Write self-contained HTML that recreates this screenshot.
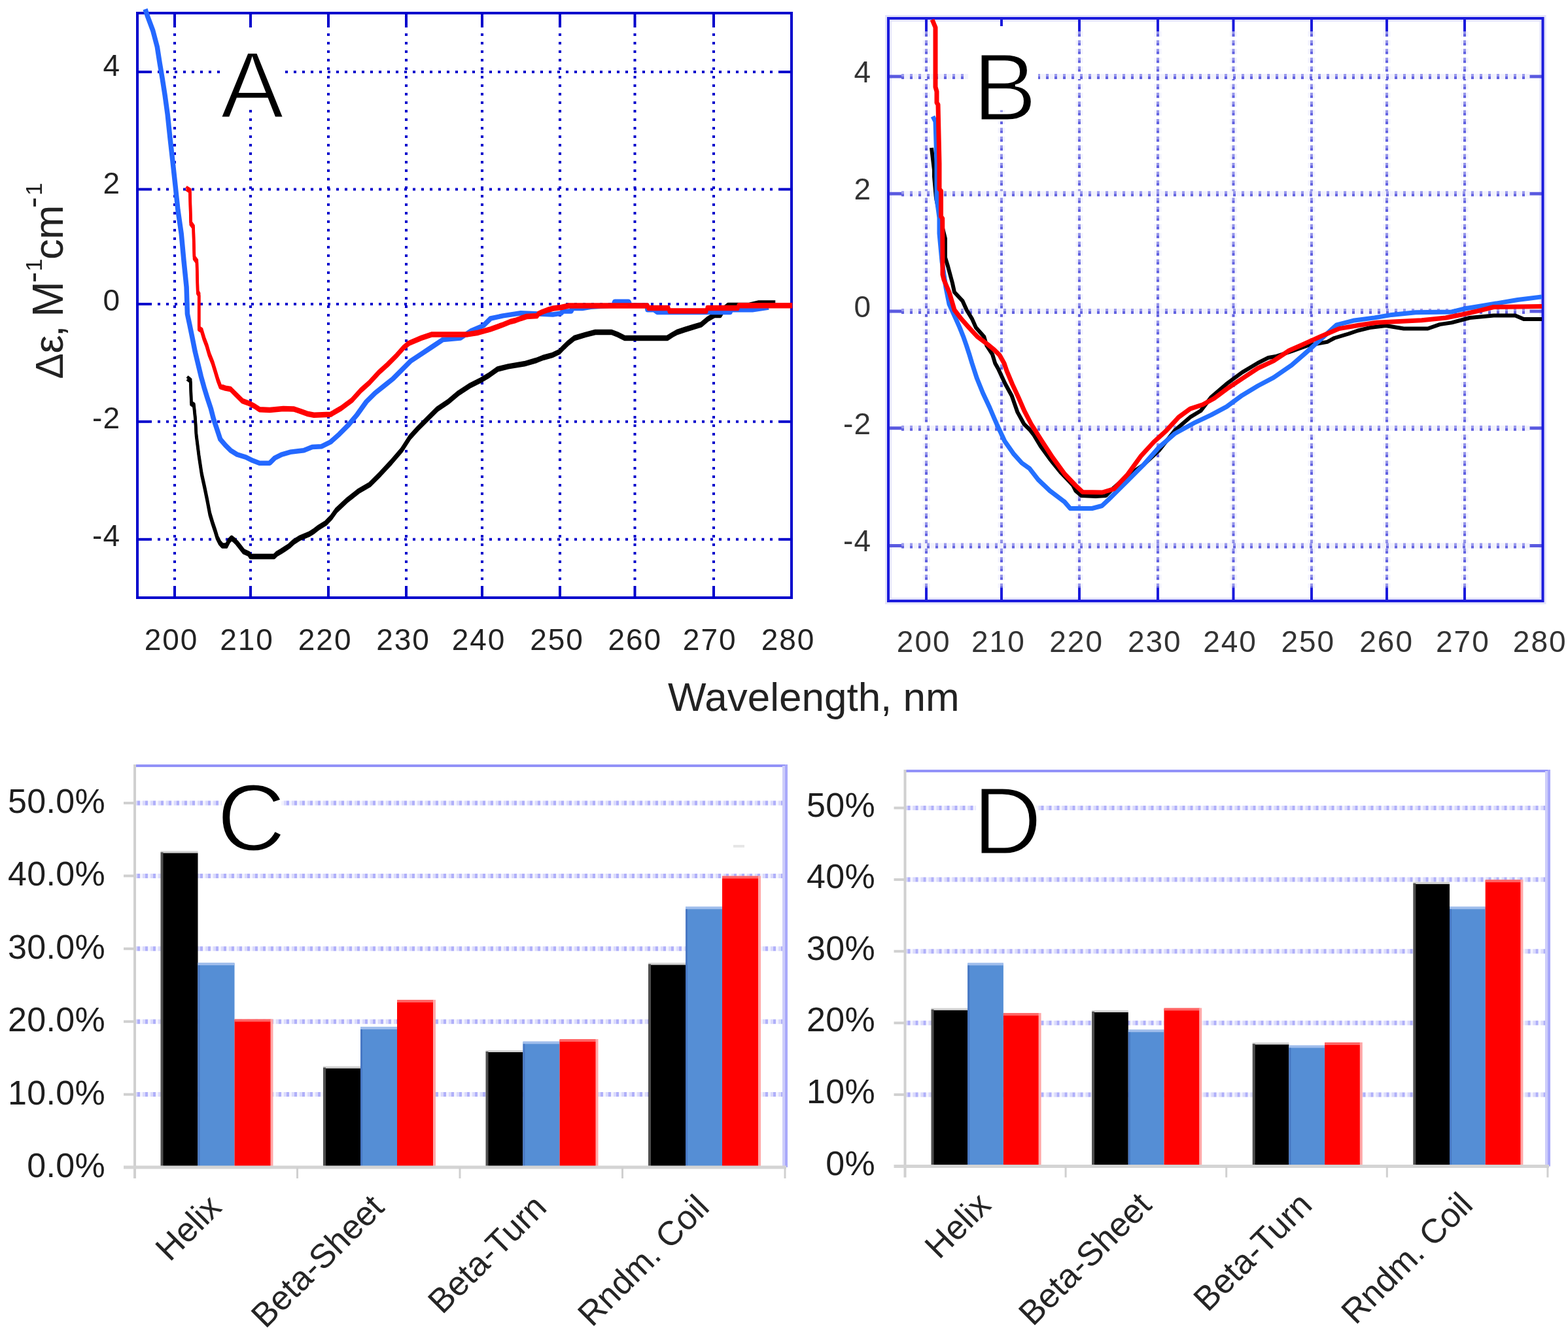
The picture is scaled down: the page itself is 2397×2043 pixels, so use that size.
<!DOCTYPE html><html><head><meta charset="utf-8"><title>CD spectra and secondary structure</title>
<style>html,body{margin:0;padding:0;background:#fff;}body{width:2397px;height:2043px;overflow:hidden;}svg{display:block;}</style></head><body>
<svg xmlns="http://www.w3.org/2000/svg" width="2397" height="2043" viewBox="0 0 2397 2043">
<rect x="0" y="0" width="2397" height="2043" fill="#ffffff"/>
<g id="panelA">
<line x1="267" y1="38" x2="267" y2="896" stroke="#0000cc" stroke-width="4" stroke-dasharray="4 9"/>
<line x1="267" y1="20" x2="267" y2="38" stroke="#0000cc" stroke-width="4"/>
<line x1="267" y1="896" x2="267" y2="914" stroke="#0000cc" stroke-width="4"/>
<line x1="383" y1="38" x2="383" y2="896" stroke="#0000cc" stroke-width="4" stroke-dasharray="4 9"/>
<line x1="383" y1="20" x2="383" y2="38" stroke="#0000cc" stroke-width="4"/>
<line x1="383" y1="896" x2="383" y2="914" stroke="#0000cc" stroke-width="4"/>
<line x1="502" y1="38" x2="502" y2="896" stroke="#0000cc" stroke-width="4" stroke-dasharray="4 9"/>
<line x1="502" y1="20" x2="502" y2="38" stroke="#0000cc" stroke-width="4"/>
<line x1="502" y1="896" x2="502" y2="914" stroke="#0000cc" stroke-width="4"/>
<line x1="621" y1="38" x2="621" y2="896" stroke="#0000cc" stroke-width="4" stroke-dasharray="4 9"/>
<line x1="621" y1="20" x2="621" y2="38" stroke="#0000cc" stroke-width="4"/>
<line x1="621" y1="896" x2="621" y2="914" stroke="#0000cc" stroke-width="4"/>
<line x1="737" y1="38" x2="737" y2="896" stroke="#0000cc" stroke-width="4" stroke-dasharray="4 9"/>
<line x1="737" y1="20" x2="737" y2="38" stroke="#0000cc" stroke-width="4"/>
<line x1="737" y1="896" x2="737" y2="914" stroke="#0000cc" stroke-width="4"/>
<line x1="856" y1="38" x2="856" y2="896" stroke="#0000cc" stroke-width="4" stroke-dasharray="4 9"/>
<line x1="856" y1="20" x2="856" y2="38" stroke="#0000cc" stroke-width="4"/>
<line x1="856" y1="896" x2="856" y2="914" stroke="#0000cc" stroke-width="4"/>
<line x1="970.5" y1="38" x2="970.5" y2="896" stroke="#0000cc" stroke-width="4" stroke-dasharray="4 9"/>
<line x1="970.5" y1="20" x2="970.5" y2="38" stroke="#0000cc" stroke-width="4"/>
<line x1="970.5" y1="896" x2="970.5" y2="914" stroke="#0000cc" stroke-width="4"/>
<line x1="1091" y1="38" x2="1091" y2="896" stroke="#0000cc" stroke-width="4" stroke-dasharray="4 9"/>
<line x1="1091" y1="20" x2="1091" y2="38" stroke="#0000cc" stroke-width="4"/>
<line x1="1091" y1="896" x2="1091" y2="914" stroke="#0000cc" stroke-width="4"/>
<line x1="228" y1="110" x2="1192" y2="110" stroke="#0000cc" stroke-width="4" stroke-dasharray="4 9"/>
<line x1="210" y1="110" x2="228" y2="110" stroke="#0000cc" stroke-width="4"/>
<line x1="1192" y1="110" x2="1210" y2="110" stroke="#0000cc" stroke-width="4"/>
<line x1="228" y1="289.5" x2="1192" y2="289.5" stroke="#0000cc" stroke-width="4" stroke-dasharray="4 9"/>
<line x1="210" y1="289.5" x2="228" y2="289.5" stroke="#0000cc" stroke-width="4"/>
<line x1="1192" y1="289.5" x2="1210" y2="289.5" stroke="#0000cc" stroke-width="4"/>
<line x1="228" y1="465" x2="1192" y2="465" stroke="#0000cc" stroke-width="4" stroke-dasharray="4 9"/>
<line x1="210" y1="465" x2="228" y2="465" stroke="#0000cc" stroke-width="4"/>
<line x1="1192" y1="465" x2="1210" y2="465" stroke="#0000cc" stroke-width="4"/>
<line x1="228" y1="644.8" x2="1192" y2="644.8" stroke="#0000cc" stroke-width="4" stroke-dasharray="4 9"/>
<line x1="210" y1="644.8" x2="228" y2="644.8" stroke="#0000cc" stroke-width="4"/>
<line x1="1192" y1="644.8" x2="1210" y2="644.8" stroke="#0000cc" stroke-width="4"/>
<line x1="228" y1="824.8" x2="1192" y2="824.8" stroke="#0000cc" stroke-width="4" stroke-dasharray="4 9"/>
<line x1="210" y1="824.8" x2="228" y2="824.8" stroke="#0000cc" stroke-width="4"/>
<line x1="1192" y1="824.8" x2="1210" y2="824.8" stroke="#0000cc" stroke-width="4"/>
<rect x="210" y="20" width="1000" height="894" fill="none" stroke="#0000cc" stroke-width="4"/>
<polyline points="287.8,577.3 291.2,580.0 292.5,615.0 296.4,617.7 298.5,638.0 300.0,663.0 304.2,696.0 308.3,723.0 312.7,743.0 316.8,763.0 320.8,784.0 325.0,798.0 329.0,810.0 332.0,820.0 336.0,828.0 340.0,832.6 346.0,832.6 350.0,825.0 354.0,820.8 358.0,824.0 362.0,828.0 366.0,833.0 372.5,841.4 380.5,845.0 383.0,849.0 419.0,849.0 423.0,845.0 429.8,841.0 436.0,837.0 442.0,833.0 448.5,827.0 458.0,820.8 473.0,814.6 479.5,810.5 487.5,804.3 498.0,797.8 506.0,789.7 514.0,778.5 529.8,763.6 548.8,748.6 565.1,739.1 581.4,722.8 597.8,705.1 614.1,686.1 626.3,667.1 638.5,653.5 654.8,637.2 668.4,623.6 684.7,612.7 701.0,599.1 717.4,588.3 733.7,580.1 747.3,572.0 760.8,562.4 777.1,558.4 801.6,554.3 820.0,549.0 830.0,545.0 845.0,540.8 855.0,536.0 862.0,528.8 868.0,523.0 878.0,515.0 895.0,509.9 910.0,506.0 935.0,506.0 945.0,509.9 955.0,515.0 1020.0,515.0 1028.0,509.9 1035.0,506.0 1047.0,502.0 1060.0,498.0 1072.0,494.3 1082.0,485.9 1092.0,480.0 1101.0,480.0 1107.0,470.0 1113.0,465.0 1130.0,465.0 1145.0,465.0 1160.0,461.5 1183.0,461.5" fill="none" stroke="#000" stroke-width="4.5" stroke-linejoin="round" stroke-linecap="square"/>
<polyline points="287.8,581.3 291.2,584.0 292.5,619.0 296.4,621.7 298.5,642.0 300.0,667.0 304.2,700.0 308.3,727.0 312.7,747.0 316.8,767.0 320.8,788.0 325.0,802.0 329.0,814.0 332.0,824.0 336.0,832.0 340.0,836.6 346.0,836.6 350.0,829.0 354.0,824.8 358.0,828.0 362.0,832.0 366.0,837.0 372.5,845.4 380.5,849.0 383.0,853.0 419.0,853.0 423.0,849.0 429.8,845.0 436.0,841.0 442.0,837.0 448.5,831.0 458.0,824.8 473.0,818.6 479.5,814.5 487.5,808.3 498.0,801.8 506.0,793.7 514.0,782.5 529.8,767.6 548.8,752.6 565.1,743.1 581.4,726.8 597.8,709.1 614.1,690.1 626.3,671.1 638.5,657.5 654.8,641.2 668.4,627.6 684.7,616.7 701.0,603.1 717.4,592.3 733.7,584.1 747.3,576.0 760.8,566.4 777.1,562.4 801.6,558.3 820.0,553.0 830.0,549.0 845.0,544.8 855.0,540.0 862.0,532.8 868.0,527.0 878.0,519.0 895.0,513.9 910.0,510.0 935.0,510.0 945.0,513.9 955.0,519.0 1020.0,519.0 1028.0,513.9 1035.0,510.0 1047.0,506.0 1060.0,502.0 1072.0,498.3 1082.0,489.9 1092.0,484.0 1101.0,484.0 1107.0,474.0 1113.0,469.0 1130.0,469.0 1145.0,469.0 1160.0,465.5 1183.0,465.5" fill="none" stroke="#000" stroke-width="4.5" stroke-linejoin="round" stroke-linecap="square"/>
<polyline points="222.0,14.0 225.8,25.5 233.7,46.6 240.3,71.6 244.2,96.7 248.2,120.4 252.1,145.4 256.1,174.4 260.0,211.3 264.0,246.8 268.0,283.7 271.9,320.6 277.2,357.5 281.1,399.6 285.1,439.0 286.4,480.0 290.0,497.0 293.8,515.5 298.2,537.7 302.9,557.2 307.3,575.4 312.0,592.3 317.2,609.3 322.4,625.0 326.4,640.5 331.6,656.0 336.8,671.8 344.6,680.9 352.4,688.7 362.8,695.2 375.8,699.1 386.3,704.3 396.7,708.2 412.3,708.2 420.0,700.4 430.5,695.2 443.5,691.3 464.4,688.7 477.4,683.5 491.7,682.7 505.3,675.9 518.9,663.7 532.5,650.0 546.1,633.8 559.7,614.7 573.3,601.1 586.9,590.3 600.5,579.4 614.0,565.8 627.7,552.2 644.0,541.3 660.3,530.5 676.6,519.6 703.8,516.9 720.0,506.0 739.0,497.9 750.0,487.0 769.0,482.9 796.2,478.8 823.4,480.0 845.0,481.0 858.0,479.0 860.0,476.0 873.0,476.0 875.0,471.5 890.0,471.5 903.0,469.2 938.0,467.0 939.7,461.2 961.0,461.2 963.0,467.0 989.0,467.0 990.0,473.8 1000.0,473.8 1005.0,477.6 1116.0,477.6 1117.0,473.8 1150.0,473.8 1175.0,470.0" fill="none" stroke="#2468ff" stroke-width="7.5" stroke-linejoin="round"/>
<polyline points="286.4,287.0 290.3,289.6 291.7,339.7 295.6,345.0 297.0,392.3 300.9,397.6 302.2,445.0 304.2,448.4 304.2,500.5 308.1,503.0 312.0,516.0 316.0,526.5 319.8,539.6 325.0,552.6 329.0,565.6 332.9,578.6 336.8,589.0 344.6,591.6 352.4,593.0 360.2,600.8 370.6,611.2 381.0,615.0 388.9,619.0 396.7,624.2 412.3,625.0 433.1,622.9 448.8,623.4 459.2,626.8 469.6,630.7 480.0,632.8 505.3,631.8 521.6,622.2 538.0,610.0 551.5,595.0 565.1,582.8 578.7,567.9 592.3,555.7 605.9,542.0 616.8,529.8 624.9,523.0 644.0,514.9 660.3,509.4 714.6,509.4 731.0,506.7 750.0,501.3 769.0,494.5 780.0,490.0 788.0,488.0 796.0,485.0 805.0,482.0 821.0,481.0 823.0,478.0 829.0,475.0 837.0,472.0 846.0,469.5 858.0,468.0 870.0,465.4 990.0,465.4 991.0,469.0 1022.0,469.0 1023.0,473.5 1080.0,473.5 1081.0,469.0 1128.0,469.0 1129.0,465.3 1209.0,465.3" fill="none" stroke="#ff0000" stroke-width="4.5" stroke-linejoin="round" stroke-linecap="square"/>
<polyline points="286.4,291.0 290.3,293.6 291.7,343.7 295.6,349.0 297.0,396.3 300.9,401.6 302.2,449.0 304.2,452.4 304.2,504.5 308.1,507.0 312.0,520.0 316.0,530.5 319.8,543.6 325.0,556.6 329.0,569.6 332.9,582.6 336.8,593.0 344.6,595.6 352.4,597.0 360.2,604.8 370.6,615.2 381.0,619.0 388.9,623.0 396.7,628.2 412.3,629.0 433.1,626.9 448.8,627.4 459.2,630.8 469.6,634.7 480.0,636.8 505.3,635.8 521.6,626.2 538.0,614.0 551.5,599.0 565.1,586.8 578.7,571.9 592.3,559.7 605.9,546.0 616.8,533.8 624.9,527.0 644.0,518.9 660.3,513.4 714.6,513.4 731.0,510.7 750.0,505.3 769.0,498.5 780.0,494.0 788.0,492.0 796.0,489.0 805.0,486.0 821.0,485.0 823.0,482.0 829.0,479.0 837.0,476.0 846.0,473.5 858.0,472.0 870.0,469.4 990.0,469.4 991.0,473.0 1022.0,473.0 1023.0,477.5 1080.0,477.5 1081.0,473.0 1128.0,473.0 1129.0,469.3 1209.0,469.3" fill="none" stroke="#ff0000" stroke-width="4.5" stroke-linejoin="round" stroke-linecap="square"/>
<text x="184" y="116" text-anchor="end" font-size="46" fill="#222" letter-spacing="1" font-family="'Liberation Sans', Arial, sans-serif">4</text>
<text x="184" y="296" text-anchor="end" font-size="46" fill="#222" letter-spacing="1" font-family="'Liberation Sans', Arial, sans-serif">2</text>
<text x="184" y="475" text-anchor="end" font-size="46" fill="#222" letter-spacing="1" font-family="'Liberation Sans', Arial, sans-serif">0</text>
<text x="184" y="655" text-anchor="end" font-size="46" fill="#222" letter-spacing="1" font-family="'Liberation Sans', Arial, sans-serif">-2</text>
<text x="184" y="835" text-anchor="end" font-size="46" fill="#222" letter-spacing="1" font-family="'Liberation Sans', Arial, sans-serif">-4</text>
<text x="262" y="994" text-anchor="middle" font-size="46" fill="#222" letter-spacing="2" font-family="'Liberation Sans', Arial, sans-serif">200</text>
<text x="377.5" y="994" text-anchor="middle" font-size="46" fill="#222" letter-spacing="2" font-family="'Liberation Sans', Arial, sans-serif">210</text>
<text x="497.1" y="994" text-anchor="middle" font-size="46" fill="#222" letter-spacing="2" font-family="'Liberation Sans', Arial, sans-serif">220</text>
<text x="616.5" y="994" text-anchor="middle" font-size="46" fill="#222" letter-spacing="2" font-family="'Liberation Sans', Arial, sans-serif">230</text>
<text x="732" y="994" text-anchor="middle" font-size="46" fill="#222" letter-spacing="2" font-family="'Liberation Sans', Arial, sans-serif">240</text>
<text x="851.5" y="994" text-anchor="middle" font-size="46" fill="#222" letter-spacing="2" font-family="'Liberation Sans', Arial, sans-serif">250</text>
<text x="970.8" y="994" text-anchor="middle" font-size="46" fill="#222" letter-spacing="2" font-family="'Liberation Sans', Arial, sans-serif">260</text>
<text x="1085.2" y="994" text-anchor="middle" font-size="46" fill="#222" letter-spacing="2" font-family="'Liberation Sans', Arial, sans-serif">270</text>
<text x="1205" y="994" text-anchor="middle" font-size="46" fill="#222" letter-spacing="2" font-family="'Liberation Sans', Arial, sans-serif">280</text>
<rect x="343" y="43" width="91" height="117" fill="#fff"/>
<text x="337" y="179.5" font-size="145.5" fill="#000" stroke="#fff" stroke-width="3" font-family="'Liberation Sans', Arial, sans-serif">A</text>
</g>
<g transform="translate(96,578) rotate(-90)" fill="#222" font-family="'Liberation Sans', Arial, sans-serif"><text font-size="63"><tspan x="37.5" y="0">&#949;</tspan><tspan x="63" y="0">,</tspan><tspan x="181" y="0">c</tspan><tspan x="212" y="0">m</tspan></text><text font-size="66" x="93" y="0">M</text><text font-size="59" x="-1.5" y="0">&#916;</text><text font-size="50"><tspan x="145.5" y="-30">-</tspan><tspan x="260" y="-30">-</tspan></text><text font-size="35"><tspan x="163" y="-32">1</tspan><tspan x="279" y="-32">1</tspan></text></g>
<g id="panelB">
<rect x="1358" y="28" width="1000.5" height="891" fill="none" stroke="#e4e4fa" stroke-width="10"/>
<line x1="1416" y1="48" x2="1416" y2="899" stroke="#f3f3fd" stroke-width="11" stroke-dasharray="8 5.4"/>
<line x1="1416" y1="48" x2="1416" y2="899" stroke="#9494ea" stroke-width="4" stroke-dasharray="4 9.4"/>
<line x1="1416" y1="52" x2="1416" y2="899" stroke="#6060e0" stroke-width="4" stroke-dasharray="4 9.4"/>
<line x1="1416" y1="28" x2="1416" y2="48" stroke="#1a1adc" stroke-width="4"/>
<line x1="1416" y1="899" x2="1416" y2="919" stroke="#1a1adc" stroke-width="4"/>
<line x1="1531" y1="48" x2="1531" y2="899" stroke="#f3f3fd" stroke-width="11" stroke-dasharray="8 5.4"/>
<line x1="1531" y1="48" x2="1531" y2="899" stroke="#9494ea" stroke-width="4" stroke-dasharray="4 9.4"/>
<line x1="1531" y1="52" x2="1531" y2="899" stroke="#6060e0" stroke-width="4" stroke-dasharray="4 9.4"/>
<line x1="1531" y1="28" x2="1531" y2="48" stroke="#1a1adc" stroke-width="4"/>
<line x1="1531" y1="899" x2="1531" y2="919" stroke="#1a1adc" stroke-width="4"/>
<line x1="1650" y1="48" x2="1650" y2="899" stroke="#f3f3fd" stroke-width="11" stroke-dasharray="8 5.4"/>
<line x1="1650" y1="48" x2="1650" y2="899" stroke="#9494ea" stroke-width="4" stroke-dasharray="4 9.4"/>
<line x1="1650" y1="52" x2="1650" y2="899" stroke="#6060e0" stroke-width="4" stroke-dasharray="4 9.4"/>
<line x1="1650" y1="28" x2="1650" y2="48" stroke="#1a1adc" stroke-width="4"/>
<line x1="1650" y1="899" x2="1650" y2="919" stroke="#1a1adc" stroke-width="4"/>
<line x1="1770" y1="48" x2="1770" y2="899" stroke="#f3f3fd" stroke-width="11" stroke-dasharray="8 5.4"/>
<line x1="1770" y1="48" x2="1770" y2="899" stroke="#9494ea" stroke-width="4" stroke-dasharray="4 9.4"/>
<line x1="1770" y1="52" x2="1770" y2="899" stroke="#6060e0" stroke-width="4" stroke-dasharray="4 9.4"/>
<line x1="1770" y1="28" x2="1770" y2="48" stroke="#1a1adc" stroke-width="4"/>
<line x1="1770" y1="899" x2="1770" y2="919" stroke="#1a1adc" stroke-width="4"/>
<line x1="1885.5" y1="48" x2="1885.5" y2="899" stroke="#f3f3fd" stroke-width="11" stroke-dasharray="8 5.4"/>
<line x1="1885.5" y1="48" x2="1885.5" y2="899" stroke="#9494ea" stroke-width="4" stroke-dasharray="4 9.4"/>
<line x1="1885.5" y1="52" x2="1885.5" y2="899" stroke="#6060e0" stroke-width="4" stroke-dasharray="4 9.4"/>
<line x1="1885.5" y1="28" x2="1885.5" y2="48" stroke="#1a1adc" stroke-width="4"/>
<line x1="1885.5" y1="899" x2="1885.5" y2="919" stroke="#1a1adc" stroke-width="4"/>
<line x1="2005" y1="48" x2="2005" y2="899" stroke="#f3f3fd" stroke-width="11" stroke-dasharray="8 5.4"/>
<line x1="2005" y1="48" x2="2005" y2="899" stroke="#9494ea" stroke-width="4" stroke-dasharray="4 9.4"/>
<line x1="2005" y1="52" x2="2005" y2="899" stroke="#6060e0" stroke-width="4" stroke-dasharray="4 9.4"/>
<line x1="2005" y1="28" x2="2005" y2="48" stroke="#1a1adc" stroke-width="4"/>
<line x1="2005" y1="899" x2="2005" y2="919" stroke="#1a1adc" stroke-width="4"/>
<line x1="2120" y1="48" x2="2120" y2="899" stroke="#f3f3fd" stroke-width="11" stroke-dasharray="8 5.4"/>
<line x1="2120" y1="48" x2="2120" y2="899" stroke="#9494ea" stroke-width="4" stroke-dasharray="4 9.4"/>
<line x1="2120" y1="52" x2="2120" y2="899" stroke="#6060e0" stroke-width="4" stroke-dasharray="4 9.4"/>
<line x1="2120" y1="28" x2="2120" y2="48" stroke="#1a1adc" stroke-width="4"/>
<line x1="2120" y1="899" x2="2120" y2="919" stroke="#1a1adc" stroke-width="4"/>
<line x1="2239" y1="48" x2="2239" y2="899" stroke="#f3f3fd" stroke-width="11" stroke-dasharray="8 5.4"/>
<line x1="2239" y1="48" x2="2239" y2="899" stroke="#9494ea" stroke-width="4" stroke-dasharray="4 9.4"/>
<line x1="2239" y1="52" x2="2239" y2="899" stroke="#6060e0" stroke-width="4" stroke-dasharray="4 9.4"/>
<line x1="2239" y1="28" x2="2239" y2="48" stroke="#1a1adc" stroke-width="4"/>
<line x1="2239" y1="899" x2="2239" y2="919" stroke="#1a1adc" stroke-width="4"/>
<line x1="1378" y1="117" x2="2338.5" y2="117" stroke="#f2f2fc" stroke-width="8"/>
<line x1="1378" y1="115" x2="2338.5" y2="115" stroke="#9a9aee" stroke-width="4" stroke-dasharray="4 9"/>
<line x1="1378" y1="119" x2="2338.5" y2="119" stroke="#6262e0" stroke-width="4" stroke-dasharray="4 9"/>
<line x1="1358" y1="117" x2="1378" y2="117" stroke="#5a5ae0" stroke-width="5"/>
<line x1="2338.5" y1="117" x2="2358.5" y2="117" stroke="#5a5ae0" stroke-width="5"/>
<line x1="1378" y1="296.2" x2="2338.5" y2="296.2" stroke="#f2f2fc" stroke-width="8"/>
<line x1="1378" y1="294.2" x2="2338.5" y2="294.2" stroke="#9a9aee" stroke-width="4" stroke-dasharray="4 9"/>
<line x1="1378" y1="298.2" x2="2338.5" y2="298.2" stroke="#6262e0" stroke-width="4" stroke-dasharray="4 9"/>
<line x1="1358" y1="296.2" x2="1378" y2="296.2" stroke="#5a5ae0" stroke-width="5"/>
<line x1="2338.5" y1="296.2" x2="2358.5" y2="296.2" stroke="#5a5ae0" stroke-width="5"/>
<line x1="1378" y1="476" x2="2338.5" y2="476" stroke="#f2f2fc" stroke-width="8"/>
<line x1="1378" y1="474" x2="2338.5" y2="474" stroke="#9a9aee" stroke-width="4" stroke-dasharray="4 9"/>
<line x1="1378" y1="478" x2="2338.5" y2="478" stroke="#6262e0" stroke-width="4" stroke-dasharray="4 9"/>
<line x1="1358" y1="476" x2="1378" y2="476" stroke="#5a5ae0" stroke-width="5"/>
<line x1="2338.5" y1="476" x2="2358.5" y2="476" stroke="#5a5ae0" stroke-width="5"/>
<line x1="1378" y1="654.7" x2="2338.5" y2="654.7" stroke="#f2f2fc" stroke-width="8"/>
<line x1="1378" y1="652.7" x2="2338.5" y2="652.7" stroke="#9a9aee" stroke-width="4" stroke-dasharray="4 9"/>
<line x1="1378" y1="656.7" x2="2338.5" y2="656.7" stroke="#6262e0" stroke-width="4" stroke-dasharray="4 9"/>
<line x1="1358" y1="654.7" x2="1378" y2="654.7" stroke="#5a5ae0" stroke-width="5"/>
<line x1="2338.5" y1="654.7" x2="2358.5" y2="654.7" stroke="#5a5ae0" stroke-width="5"/>
<line x1="1378" y1="834.5" x2="2338.5" y2="834.5" stroke="#f2f2fc" stroke-width="8"/>
<line x1="1378" y1="832.5" x2="2338.5" y2="832.5" stroke="#9a9aee" stroke-width="4" stroke-dasharray="4 9"/>
<line x1="1378" y1="836.5" x2="2338.5" y2="836.5" stroke="#6262e0" stroke-width="4" stroke-dasharray="4 9"/>
<line x1="1358" y1="834.5" x2="1378" y2="834.5" stroke="#5a5ae0" stroke-width="5"/>
<line x1="2338.5" y1="834.5" x2="2358.5" y2="834.5" stroke="#5a5ae0" stroke-width="5"/>
<rect x="1358" y="28" width="1000.5" height="891" fill="none" stroke="#1a1adc" stroke-width="4"/>
<polyline points="1424.0,226.0 1428.0,260.0 1428.0,270.0 1431.0,303.0 1440.0,345.0 1445.0,365.0 1445.0,394.0 1449.0,407.0 1456.0,433.0 1459.0,446.8 1471.6,460.4 1477.7,474.0 1486.0,487.6 1492.0,501.1 1504.2,514.7 1508.3,528.3 1517.1,541.9 1521.2,555.5 1526.0,564.0 1536.3,586.2 1546.7,605.3 1555.5,630.4 1565.6,648.7 1574.0,657.0 1580.6,665.5 1590.8,682.5 1605.0,702.0 1622.0,723.0 1640.0,742.0 1644.3,750.4 1653.0,758.0 1675.0,759.0 1690.7,757.9 1702.9,745.7 1723.0,728.0 1747.8,711.1 1771.7,688.8 1795.6,658.6 1819.4,637.9 1835.4,628.3 1851.3,607.6 1875.2,586.9 1899.0,569.4 1923.0,555.0 1938.9,547.0 1951.6,544.7 1975.0,537.0 2000.0,528.0 2028.8,522.9 2039.7,517.0 2061.4,510.5 2075.9,505.5 2094.0,501.1 2118.4,498.0 2145.9,502.5 2182.6,502.5 2200.9,496.1 2219.2,493.4 2246.8,486.0 2283.4,482.4 2316.4,482.4 2329.3,487.9 2357.0,487.9" fill="none" stroke="#000" stroke-width="6" stroke-linejoin="round"/>
<polyline points="1426.0,178.0 1430.0,186.0 1432.0,250.0 1432.0,304.0 1436.0,333.0 1436.0,357.0 1440.0,400.0 1446.0,440.0 1451.0,465.0 1461.2,487.6 1467.2,501.1 1472.6,514.7 1477.4,528.3 1481.8,541.9 1485.9,555.5 1493.5,578.8 1502.5,601.0 1512.8,623.0 1520.0,640.0 1523.8,648.7 1535.8,674.4 1550.0,694.7 1562.0,708.0 1573.8,716.4 1587.0,733.4 1604.8,750.4 1627.3,767.4 1636.0,777.5 1669.4,777.5 1684.5,773.5 1694.7,764.0 1709.0,749.8 1723.9,735.0 1747.8,711.1 1771.7,684.0 1795.6,663.3 1827.4,645.8 1851.3,634.7 1875.2,621.9 1899.0,604.4 1923.0,590.0 1946.9,577.3 1974.5,558.3 1996.2,539.5 2010.7,526.5 2043.3,496.8 2068.6,490.3 2101.2,485.9 2127.5,481.4 2164.2,477.8 2219.2,476.9 2237.6,472.3 2265.1,467.7 2292.6,463.1 2320.1,458.5 2357.0,453.9" fill="none" stroke="#2470ff" stroke-width="7" stroke-linejoin="round"/>
<polyline points="1425.0,30.0 1430.0,42.0 1430.0,133.0 1432.0,140.0 1432.0,157.0 1434.0,160.0 1436.0,250.0 1436.0,289.0 1438.5,292.0 1438.5,331.0 1440.7,334.0 1441.0,420.0 1443.0,428.0 1451.0,446.8 1455.1,460.4 1459.0,474.0 1469.5,487.6 1481.4,501.1 1494.0,514.7 1509.0,526.0 1520.0,535.0 1528.0,543.0 1535.0,555.5 1539.0,567.2 1547.6,587.6 1557.0,607.9 1565.9,628.3 1576.4,648.5 1592.5,674.0 1609.0,699.4 1627.7,725.0 1643.9,742.0 1655.0,752.5 1685.0,753.0 1695.0,750.0 1702.9,747.7 1723.9,725.4 1744.6,696.8 1763.7,676.0 1782.8,658.6 1801.9,637.9 1819.4,625.1 1838.6,618.7 1856.0,609.2 1875.2,594.9 1899.0,578.9 1923.0,563.0 1946.9,551.9 1970.7,536.0 1989.0,528.0 2018.0,514.9 2046.9,502.6 2075.9,497.5 2104.8,493.2 2173.4,489.7 2210.0,486.0 2237.6,480.5 2265.1,474.1 2283.4,469.5 2357.0,468.6" fill="none" stroke="#ff0000" stroke-width="7" stroke-linejoin="round"/>
<text x="1332" y="126" text-anchor="end" font-size="46" fill="#333" letter-spacing="1" font-family="'Liberation Sans', Arial, sans-serif">4</text>
<text x="1332" y="305" text-anchor="end" font-size="46" fill="#333" letter-spacing="1" font-family="'Liberation Sans', Arial, sans-serif">2</text>
<text x="1332" y="485" text-anchor="end" font-size="46" fill="#333" letter-spacing="1" font-family="'Liberation Sans', Arial, sans-serif">0</text>
<text x="1332" y="664" text-anchor="end" font-size="46" fill="#333" letter-spacing="1" font-family="'Liberation Sans', Arial, sans-serif">-2</text>
<text x="1332" y="843" text-anchor="end" font-size="46" fill="#333" letter-spacing="1" font-family="'Liberation Sans', Arial, sans-serif">-4</text>
<text x="1412.2" y="997" text-anchor="middle" font-size="46" fill="#333" letter-spacing="2" font-family="'Liberation Sans', Arial, sans-serif">200</text>
<text x="1526.4" y="997" text-anchor="middle" font-size="46" fill="#333" letter-spacing="2" font-family="'Liberation Sans', Arial, sans-serif">210</text>
<text x="1645.6" y="997" text-anchor="middle" font-size="46" fill="#333" letter-spacing="2" font-family="'Liberation Sans', Arial, sans-serif">220</text>
<text x="1765.3" y="997" text-anchor="middle" font-size="46" fill="#333" letter-spacing="2" font-family="'Liberation Sans', Arial, sans-serif">230</text>
<text x="1880.5" y="997" text-anchor="middle" font-size="46" fill="#333" letter-spacing="2" font-family="'Liberation Sans', Arial, sans-serif">240</text>
<text x="1999.8" y="997" text-anchor="middle" font-size="46" fill="#333" letter-spacing="2" font-family="'Liberation Sans', Arial, sans-serif">250</text>
<text x="2119.6" y="997" text-anchor="middle" font-size="46" fill="#333" letter-spacing="2" font-family="'Liberation Sans', Arial, sans-serif">260</text>
<text x="2236.4" y="997" text-anchor="middle" font-size="46" fill="#333" letter-spacing="2" font-family="'Liberation Sans', Arial, sans-serif">270</text>
<text x="2354.2" y="997" text-anchor="middle" font-size="46" fill="#333" letter-spacing="2" font-family="'Liberation Sans', Arial, sans-serif">280</text>
<rect x="1480" y="40" width="107" height="125" fill="#fff"/>
<text x="1487" y="183.5" font-size="147" fill="#000" stroke="#fff" stroke-width="3" font-family="'Liberation Sans', Arial, sans-serif">B</text>
</g>
<text x="1021" y="1087" font-size="62" fill="#222" font-family="'Liberation Sans', Arial, sans-serif">Wavelength, nm</text>
<g id="panelC">
<line x1="206" y1="1673.6" x2="1200" y2="1673.6" stroke="#f3f3fe" stroke-width="7"/>
<line x1="206" y1="1673.6" x2="1200" y2="1673.6" stroke="#dadafc" stroke-width="7" stroke-dasharray="4 8"/>
<line x1="210" y1="1673.6" x2="1200" y2="1673.6" stroke="#b0b0f9" stroke-width="7" stroke-dasharray="4 8"/>
<line x1="206" y1="1562.2" x2="1200" y2="1562.2" stroke="#f3f3fe" stroke-width="7"/>
<line x1="206" y1="1562.2" x2="1200" y2="1562.2" stroke="#dadafc" stroke-width="7" stroke-dasharray="4 8"/>
<line x1="210" y1="1562.2" x2="1200" y2="1562.2" stroke="#b0b0f9" stroke-width="7" stroke-dasharray="4 8"/>
<line x1="206" y1="1450.8" x2="1200" y2="1450.8" stroke="#f3f3fe" stroke-width="7"/>
<line x1="206" y1="1450.8" x2="1200" y2="1450.8" stroke="#dadafc" stroke-width="7" stroke-dasharray="4 8"/>
<line x1="210" y1="1450.8" x2="1200" y2="1450.8" stroke="#b0b0f9" stroke-width="7" stroke-dasharray="4 8"/>
<line x1="206" y1="1339.4" x2="1200" y2="1339.4" stroke="#f3f3fe" stroke-width="7"/>
<line x1="206" y1="1339.4" x2="1200" y2="1339.4" stroke="#dadafc" stroke-width="7" stroke-dasharray="4 8"/>
<line x1="210" y1="1339.4" x2="1200" y2="1339.4" stroke="#b0b0f9" stroke-width="7" stroke-dasharray="4 8"/>
<line x1="206" y1="1228.0" x2="1200" y2="1228.0" stroke="#f3f3fe" stroke-width="7"/>
<line x1="206" y1="1228.0" x2="1200" y2="1228.0" stroke="#dadafc" stroke-width="7" stroke-dasharray="4 8"/>
<line x1="210" y1="1228.0" x2="1200" y2="1228.0" stroke="#b0b0f9" stroke-width="7" stroke-dasharray="4 8"/>
<rect x="246.5" y="1304.3" width="56.0" height="480.7" fill="#000000"/>
<rect x="245.5" y="1301.3" width="57.0" height="3" fill="#d2d2d2"/>
<rect x="245.5" y="1303.3" width="4" height="481.7" fill="#4e4e4e"/>
<rect x="302.5" y="1473.1" width="56.0" height="311.9" fill="#558ed5"/>
<rect x="302.5" y="1472.1" width="56.0" height="4" fill="#9fbdec"/>
<rect x="302.5" y="1476.1" width="3" height="308.9" fill="#4878c4"/>
<rect x="358.5" y="1559.4" width="56.0" height="225.6" fill="#ff0000"/>
<rect x="358.5" y="1558.4" width="56.0" height="4" fill="#ff6464"/>
<rect x="413.5" y="1558.4" width="4" height="226.6" fill="#ffa8a8"/>
<rect x="495.0" y="1633.5" width="56.0" height="151.5" fill="#000000"/>
<rect x="494.0" y="1630.5" width="57.0" height="3" fill="#d2d2d2"/>
<rect x="494.0" y="1632.5" width="4" height="152.5" fill="#4e4e4e"/>
<rect x="551.0" y="1571.1" width="56.0" height="213.9" fill="#558ed5"/>
<rect x="551.0" y="1570.1" width="56.0" height="4" fill="#9fbdec"/>
<rect x="551.0" y="1574.1" width="3" height="210.9" fill="#4878c4"/>
<rect x="607.0" y="1529.9" width="56.0" height="255.1" fill="#ff0000"/>
<rect x="607.0" y="1528.9" width="56.0" height="4" fill="#ff6464"/>
<rect x="662.0" y="1528.9" width="4" height="256.1" fill="#ffa8a8"/>
<rect x="743.5" y="1609.0" width="56.0" height="176.0" fill="#000000"/>
<rect x="742.5" y="1606.0" width="57.0" height="3" fill="#d2d2d2"/>
<rect x="742.5" y="1608.0" width="4" height="177.0" fill="#4e4e4e"/>
<rect x="799.5" y="1593.4" width="56.0" height="191.6" fill="#558ed5"/>
<rect x="799.5" y="1592.4" width="56.0" height="4" fill="#9fbdec"/>
<rect x="799.5" y="1596.4" width="3" height="188.6" fill="#4878c4"/>
<rect x="855.5" y="1590.0" width="56.0" height="195.0" fill="#ff0000"/>
<rect x="855.5" y="1589.0" width="56.0" height="4" fill="#ff6464"/>
<rect x="910.5" y="1589.0" width="4" height="196.0" fill="#ffa8a8"/>
<rect x="992.0" y="1475.3" width="56.0" height="309.7" fill="#000000"/>
<rect x="991.0" y="1472.3" width="57.0" height="3" fill="#d2d2d2"/>
<rect x="991.0" y="1474.3" width="4" height="310.7" fill="#4e4e4e"/>
<rect x="1048.0" y="1387.3" width="56.0" height="397.7" fill="#558ed5"/>
<rect x="1048.0" y="1386.3" width="56.0" height="4" fill="#9fbdec"/>
<rect x="1048.0" y="1390.3" width="3" height="394.7" fill="#4878c4"/>
<rect x="1104.0" y="1340.5" width="56.0" height="444.5" fill="#ff0000"/>
<rect x="1104.0" y="1339.5" width="56.0" height="4" fill="#ff6464"/>
<rect x="1159.0" y="1339.5" width="4" height="445.5" fill="#ffa8a8"/>
<line x1="206" y1="1171" x2="1200" y2="1171" stroke="#9292f8" stroke-width="4"/>
<line x1="1198" y1="1171" x2="1198" y2="1785" stroke="#cdcdfa" stroke-width="4"/>
<line x1="1202" y1="1169" x2="1202" y2="1785" stroke="#a8a8fa" stroke-width="4"/>
<line x1="206" y1="1169" x2="206" y2="1802" stroke="#d0d0d0" stroke-width="4"/>
<line x1="189" y1="1785" x2="1202" y2="1785" stroke="#d4d4d4" stroke-width="5"/>
<line x1="189" y1="1673.6" x2="206" y2="1673.6" stroke="#d0d0d0" stroke-width="4"/>
<line x1="189" y1="1562.2" x2="206" y2="1562.2" stroke="#d0d0d0" stroke-width="4"/>
<line x1="189" y1="1450.8" x2="206" y2="1450.8" stroke="#d0d0d0" stroke-width="4"/>
<line x1="189" y1="1339.4" x2="206" y2="1339.4" stroke="#d0d0d0" stroke-width="4"/>
<line x1="189" y1="1228.0" x2="206" y2="1228.0" stroke="#d0d0d0" stroke-width="4"/>
<line x1="454.5" y1="1785" x2="454.5" y2="1802" stroke="#d0d0d0" stroke-width="3"/>
<line x1="703.0" y1="1785" x2="703.0" y2="1802" stroke="#d0d0d0" stroke-width="3"/>
<line x1="951.5" y1="1785" x2="951.5" y2="1802" stroke="#d0d0d0" stroke-width="3"/>
<line x1="1200.0" y1="1785" x2="1200.0" y2="1802" stroke="#d0d0d0" stroke-width="3"/>
<text x="161" y="1800.0" text-anchor="end" font-size="52" letter-spacing="0.3" fill="#1e1e1e" font-family="'Liberation Sans', Arial, sans-serif">0.0%</text>
<text x="161" y="1688.6" text-anchor="end" font-size="52" letter-spacing="0.3" fill="#1e1e1e" font-family="'Liberation Sans', Arial, sans-serif">10.0%</text>
<text x="161" y="1577.2" text-anchor="end" font-size="52" letter-spacing="0.3" fill="#1e1e1e" font-family="'Liberation Sans', Arial, sans-serif">20.0%</text>
<text x="161" y="1465.8" text-anchor="end" font-size="52" letter-spacing="0.3" fill="#1e1e1e" font-family="'Liberation Sans', Arial, sans-serif">30.0%</text>
<text x="161" y="1354.4" text-anchor="end" font-size="52" letter-spacing="0.3" fill="#1e1e1e" font-family="'Liberation Sans', Arial, sans-serif">40.0%</text>
<text x="161" y="1243.0" text-anchor="end" font-size="52" letter-spacing="0.3" fill="#1e1e1e" font-family="'Liberation Sans', Arial, sans-serif">50.0%</text>
<text transform="translate(341.2,1849.0) rotate(-45)" text-anchor="end" font-size="52" fill="#252525" font-family="'Liberation Sans', Arial, sans-serif">Helix</text>
<text transform="translate(589.8,1849.0) rotate(-45)" text-anchor="end" font-size="52" fill="#252525" font-family="'Liberation Sans', Arial, sans-serif">Beta-Sheet</text>
<text transform="translate(838.2,1849.0) rotate(-45)" text-anchor="end" font-size="52" fill="#252525" font-family="'Liberation Sans', Arial, sans-serif">Beta-Turn</text>
<text transform="translate(1086.8,1849.0) rotate(-45)" text-anchor="end" font-size="52" fill="#252525" font-family="'Liberation Sans', Arial, sans-serif">Rndm. Coil</text>
<rect x="339" y="1195" width="91" height="110" fill="#fff"/>
<text x="331.5" y="1300.5" font-size="145.5" fill="#000" stroke="#fff" stroke-width="3" font-family="'Liberation Sans', Arial, sans-serif">C</text>
<rect x="1121" y="1292" width="17" height="4" fill="#e6e6e6"/>
</g>
<g id="panelD">
<line x1="1383.5" y1="1673.9" x2="2366" y2="1673.9" stroke="#f3f3fe" stroke-width="7"/>
<line x1="1383.5" y1="1673.9" x2="2366" y2="1673.9" stroke="#dadafc" stroke-width="7" stroke-dasharray="4 8"/>
<line x1="1387.5" y1="1673.9" x2="2366" y2="1673.9" stroke="#b0b0f9" stroke-width="7" stroke-dasharray="4 8"/>
<line x1="1383.5" y1="1564.3" x2="2366" y2="1564.3" stroke="#f3f3fe" stroke-width="7"/>
<line x1="1383.5" y1="1564.3" x2="2366" y2="1564.3" stroke="#dadafc" stroke-width="7" stroke-dasharray="4 8"/>
<line x1="1387.5" y1="1564.3" x2="2366" y2="1564.3" stroke="#b0b0f9" stroke-width="7" stroke-dasharray="4 8"/>
<line x1="1383.5" y1="1454.7" x2="2366" y2="1454.7" stroke="#f3f3fe" stroke-width="7"/>
<line x1="1383.5" y1="1454.7" x2="2366" y2="1454.7" stroke="#dadafc" stroke-width="7" stroke-dasharray="4 8"/>
<line x1="1387.5" y1="1454.7" x2="2366" y2="1454.7" stroke="#b0b0f9" stroke-width="7" stroke-dasharray="4 8"/>
<line x1="1383.5" y1="1345.1" x2="2366" y2="1345.1" stroke="#f3f3fe" stroke-width="7"/>
<line x1="1383.5" y1="1345.1" x2="2366" y2="1345.1" stroke="#dadafc" stroke-width="7" stroke-dasharray="4 8"/>
<line x1="1387.5" y1="1345.1" x2="2366" y2="1345.1" stroke="#b0b0f9" stroke-width="7" stroke-dasharray="4 8"/>
<line x1="1383.5" y1="1235.5" x2="2366" y2="1235.5" stroke="#f3f3fe" stroke-width="7"/>
<line x1="1383.5" y1="1235.5" x2="2366" y2="1235.5" stroke="#dadafc" stroke-width="7" stroke-dasharray="4 8"/>
<line x1="1387.5" y1="1235.5" x2="2366" y2="1235.5" stroke="#b0b0f9" stroke-width="7" stroke-dasharray="4 8"/>
<rect x="1424.5" y="1544.6" width="54.7" height="238.9" fill="#000000"/>
<rect x="1423.5" y="1541.6" width="55.7" height="3" fill="#d2d2d2"/>
<rect x="1423.5" y="1543.6" width="4" height="239.9" fill="#4e4e4e"/>
<rect x="1479.2" y="1473.3" width="54.7" height="310.2" fill="#558ed5"/>
<rect x="1479.2" y="1472.3" width="54.7" height="4" fill="#9fbdec"/>
<rect x="1479.2" y="1476.3" width="3" height="307.2" fill="#4878c4"/>
<rect x="1533.9" y="1550.1" width="54.7" height="233.4" fill="#ff0000"/>
<rect x="1533.9" y="1549.1" width="54.7" height="4" fill="#ff6464"/>
<rect x="1587.6" y="1549.1" width="4" height="234.4" fill="#ffa8a8"/>
<rect x="1670.1" y="1547.9" width="54.7" height="235.6" fill="#000000"/>
<rect x="1669.1" y="1544.9" width="55.7" height="3" fill="#d2d2d2"/>
<rect x="1669.1" y="1546.9" width="4" height="236.6" fill="#4e4e4e"/>
<rect x="1724.8" y="1575.3" width="54.7" height="208.2" fill="#558ed5"/>
<rect x="1724.8" y="1574.3" width="54.7" height="4" fill="#9fbdec"/>
<rect x="1724.8" y="1578.3" width="3" height="205.2" fill="#4878c4"/>
<rect x="1779.5" y="1542.4" width="54.7" height="241.1" fill="#ff0000"/>
<rect x="1779.5" y="1541.4" width="54.7" height="4" fill="#ff6464"/>
<rect x="1833.2" y="1541.4" width="4" height="242.1" fill="#ffa8a8"/>
<rect x="1915.7" y="1597.2" width="54.7" height="186.3" fill="#000000"/>
<rect x="1914.7" y="1594.2" width="55.7" height="3" fill="#d2d2d2"/>
<rect x="1914.7" y="1596.2" width="4" height="187.3" fill="#4e4e4e"/>
<rect x="1970.4" y="1599.4" width="54.7" height="184.1" fill="#558ed5"/>
<rect x="1970.4" y="1598.4" width="54.7" height="4" fill="#9fbdec"/>
<rect x="1970.4" y="1602.4" width="3" height="181.1" fill="#4878c4"/>
<rect x="2025.1" y="1595.0" width="54.7" height="188.5" fill="#ff0000"/>
<rect x="2025.1" y="1594.0" width="54.7" height="4" fill="#ff6464"/>
<rect x="2078.8" y="1594.0" width="4" height="189.5" fill="#ffa8a8"/>
<rect x="2161.3" y="1351.7" width="54.7" height="431.8" fill="#000000"/>
<rect x="2160.3" y="1348.7" width="55.7" height="3" fill="#d2d2d2"/>
<rect x="2160.3" y="1350.7" width="4" height="432.8" fill="#4e4e4e"/>
<rect x="2216.0" y="1387.3" width="54.7" height="396.2" fill="#558ed5"/>
<rect x="2216.0" y="1386.3" width="54.7" height="4" fill="#9fbdec"/>
<rect x="2216.0" y="1390.3" width="3" height="393.2" fill="#4878c4"/>
<rect x="2270.7" y="1346.2" width="54.7" height="437.3" fill="#ff0000"/>
<rect x="2270.7" y="1345.2" width="54.7" height="4" fill="#ff6464"/>
<rect x="2324.4" y="1345.2" width="4" height="438.3" fill="#ffa8a8"/>
<line x1="1383.5" y1="1179" x2="2366" y2="1179" stroke="#9292f8" stroke-width="4"/>
<line x1="2364" y1="1179" x2="2364" y2="1783.5" stroke="#cdcdfa" stroke-width="4"/>
<line x1="2368" y1="1177" x2="2368" y2="1783.5" stroke="#a8a8fa" stroke-width="4"/>
<line x1="1383.5" y1="1177" x2="1383.5" y2="1800.5" stroke="#d0d0d0" stroke-width="4"/>
<line x1="1366.5" y1="1783.5" x2="2368" y2="1783.5" stroke="#d4d4d4" stroke-width="5"/>
<line x1="1366.5" y1="1673.9" x2="1383.5" y2="1673.9" stroke="#d0d0d0" stroke-width="4"/>
<line x1="1366.5" y1="1564.3" x2="1383.5" y2="1564.3" stroke="#d0d0d0" stroke-width="4"/>
<line x1="1366.5" y1="1454.7" x2="1383.5" y2="1454.7" stroke="#d0d0d0" stroke-width="4"/>
<line x1="1366.5" y1="1345.1" x2="1383.5" y2="1345.1" stroke="#d0d0d0" stroke-width="4"/>
<line x1="1366.5" y1="1235.5" x2="1383.5" y2="1235.5" stroke="#d0d0d0" stroke-width="4"/>
<line x1="1629.1" y1="1783.5" x2="1629.1" y2="1800.5" stroke="#d0d0d0" stroke-width="3"/>
<line x1="1874.7" y1="1783.5" x2="1874.7" y2="1800.5" stroke="#d0d0d0" stroke-width="3"/>
<line x1="2120.3" y1="1783.5" x2="2120.3" y2="1800.5" stroke="#d0d0d0" stroke-width="3"/>
<line x1="2365.9" y1="1783.5" x2="2365.9" y2="1800.5" stroke="#d0d0d0" stroke-width="3"/>
<text x="1338" y="1796.5" text-anchor="end" font-size="52" letter-spacing="0.3" fill="#1e1e1e" font-family="'Liberation Sans', Arial, sans-serif">0%</text>
<text x="1338" y="1686.9" text-anchor="end" font-size="52" letter-spacing="0.3" fill="#1e1e1e" font-family="'Liberation Sans', Arial, sans-serif">10%</text>
<text x="1338" y="1577.3" text-anchor="end" font-size="52" letter-spacing="0.3" fill="#1e1e1e" font-family="'Liberation Sans', Arial, sans-serif">20%</text>
<text x="1338" y="1467.7" text-anchor="end" font-size="52" letter-spacing="0.3" fill="#1e1e1e" font-family="'Liberation Sans', Arial, sans-serif">30%</text>
<text x="1338" y="1358.1" text-anchor="end" font-size="52" letter-spacing="0.3" fill="#1e1e1e" font-family="'Liberation Sans', Arial, sans-serif">40%</text>
<text x="1338" y="1248.5" text-anchor="end" font-size="52" letter-spacing="0.3" fill="#1e1e1e" font-family="'Liberation Sans', Arial, sans-serif">50%</text>
<text transform="translate(1517.3,1845.5) rotate(-45)" text-anchor="end" font-size="52" fill="#252525" font-family="'Liberation Sans', Arial, sans-serif">Helix</text>
<text transform="translate(1762.9,1845.5) rotate(-45)" text-anchor="end" font-size="52" fill="#252525" font-family="'Liberation Sans', Arial, sans-serif">Beta-Sheet</text>
<text transform="translate(2008.5,1845.5) rotate(-45)" text-anchor="end" font-size="52" fill="#252525" font-family="'Liberation Sans', Arial, sans-serif">Beta-Turn</text>
<text transform="translate(2254.1,1845.5) rotate(-45)" text-anchor="end" font-size="52" fill="#252525" font-family="'Liberation Sans', Arial, sans-serif">Rndm. Coil</text>
<rect x="1492" y="1200" width="91" height="110" fill="#fff"/>
<text x="1487" y="1305.5" font-size="146.5" fill="#000" stroke="#fff" stroke-width="3" font-family="'Liberation Sans', Arial, sans-serif">D</text>
</g>
</svg></body></html>
